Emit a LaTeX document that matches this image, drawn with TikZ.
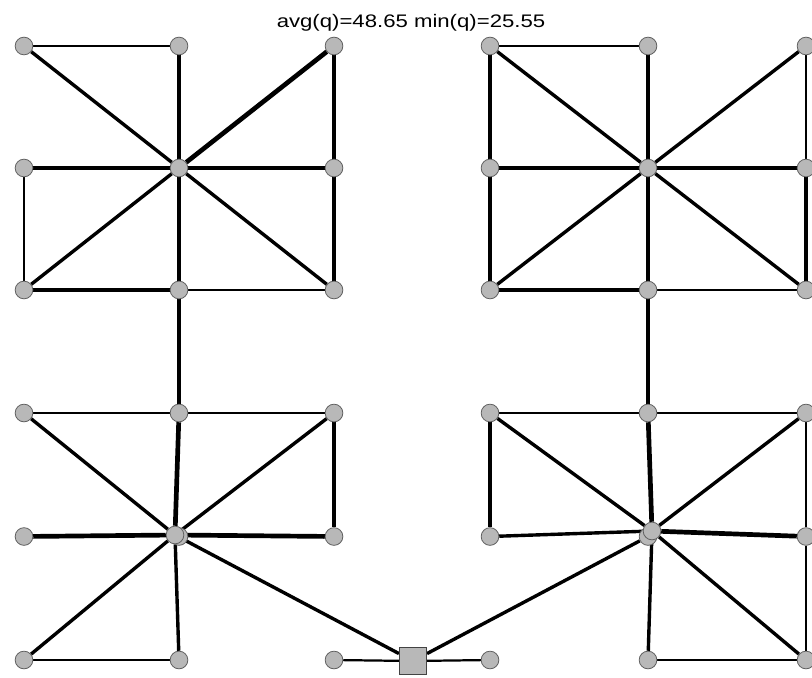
\documentclass[tikz,border=0pt]{standalone}
\usepackage{fontspec}
\setmainfont{Liberation Sans}
\usetikzlibrary{backgrounds}
\definecolor{nodegray}{RGB}{184,184,184}
\definecolor{rimgray}{RGB}{95,95,95}

\begin{document}
\begin{tikzpicture}[
  x=0.03cm, y=-0.03cm,
  vtx/.style={circle, draw=rimgray, fill=nodegray, line width=0.7pt, minimum size=5.3mm, inner sep=0pt},
  hub/.style={rectangle, draw=rimgray!70!black, fill=nodegray, line width=0.7pt, minimum size=8.2mm, inner sep=0pt},
  fineedge/.style={line width=1pt},
  midedge/.style={line width=1.9pt},
  boldedge/.style={line width=2.9pt},
  heavyedge/.style={line width=4pt}
]
\useasboundingbox (0,0) rectangle (812,678);

\node[anchor=base] (title) at (411,28)
  {\scalebox{1.22}[1]{\fontsize{15.5}{18}\selectfont avg(q)=48.65 min(q)=25.55}};

% 3x3 grid of nodes per block
\foreach \B/\xo/\yo/\dx/\dy in {TL/24/46/155/122, TR/490/46/158/122, BL/24/413/155/123.5, BR/490/413/158/123.5}
  \foreach \r in {1,2,3}
    \foreach \c in {1,2,3}
      \node[vtx] (\B\r\c) at ({\xo+(\c-1)*\dx}, {\yo+(\r-1)*\dy}) {};

% lower hubs sit a little off the grid
\node[vtx] (BLc) at (175,535) {};
\node[vtx] (BRc) at (652,531) {};
\node[hub] (sink) at (413,661) {};

\begin{scope}[on background layer]
\foreach \u/\v in {TL11/TL12, TL21/TL31, TR11/TR12, BL12/BL13, BR11/BR12, BR23/BR33}
  \draw[fineedge] (\u) -- (\v);
\foreach \u/\v in {TL32/TL33, TR13/TR23, TR32/TR33, BL11/BL12, BL31/BL32, BL33/sink,
    BR12/BR13, BR13/BR23, BR32/BR33, sink/BR31}
  \draw[midedge] (\u) -- (\v);
\foreach \u/\v in {TL11/TL22, TL13/TL23, TL22/TL23, TL22/TL31, TL22/TL33, TL23/TL33, TL31/TL32,
    TR11/TR21, TR11/TR22, TR13/TR22, TR22/TR23, TR21/TR31, TR22/TR31, TR22/TR33, TR23/TR33, TR31/TR32,
    BL11/BLc, BL13/BLc, BL13/BL23, BLc/BL31, BLc/BL32, BLc/sink,
    BR11/BR21, BR11/BRc, BR13/BRc, BR21/BRc, BRc/BR32, BRc/BR33, sink/BR22}
  \draw[boldedge] (\u) -- (\v);
\foreach \u/\v in {TL12/TL22, TL13/TL22, TL21/TL22, TL22/TL32, TL32/BL12,
    TR12/TR22, TR21/TR22, TR22/TR32, TR32/BR12,
    BL12/BLc, BL21/BLc, BLc/BL23, BR12/BRc, BRc/BR23}
  \draw[heavyedge] (\u) -- (\v);
\end{scope}
\end{tikzpicture}
\end{document}
